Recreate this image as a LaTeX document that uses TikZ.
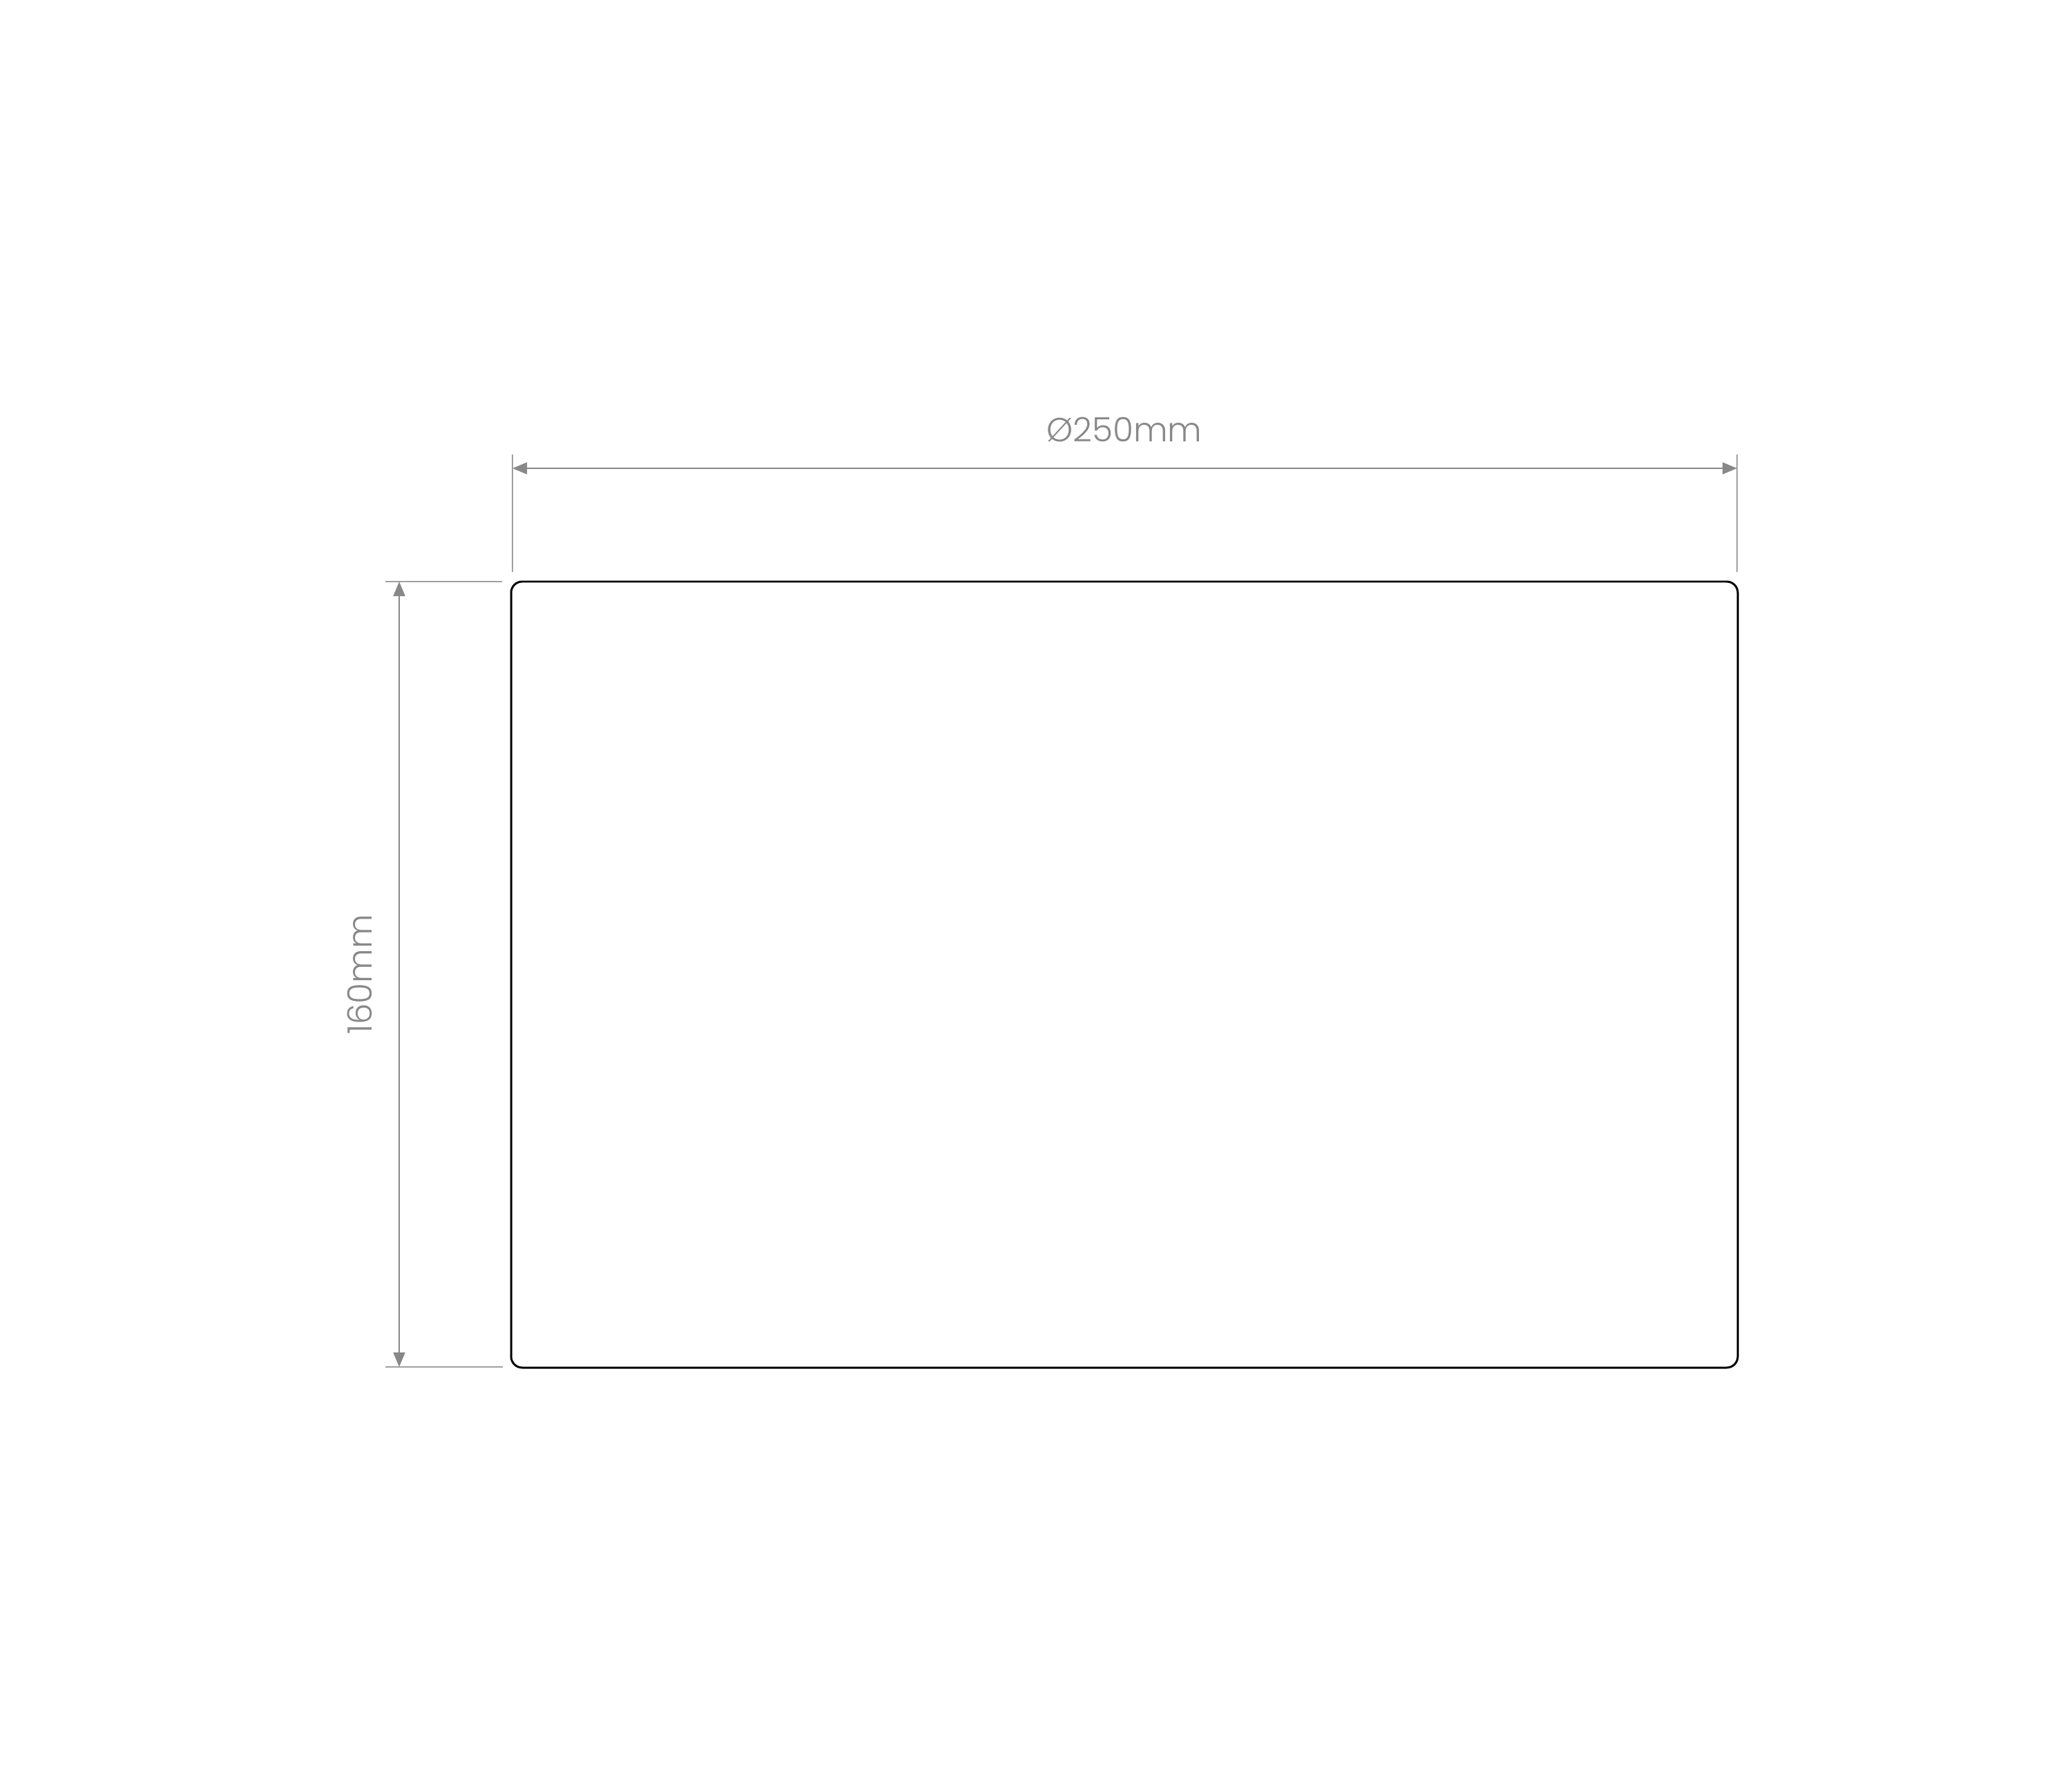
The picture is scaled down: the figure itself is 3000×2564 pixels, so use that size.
\documentclass[tikz,border=0pt]{standalone}
\usepackage{fontspec}
\setmainfont{Poppins}[UprightFont=* Light]
\usetikzlibrary{arrows.meta}
\definecolor{dimgray}{HTML}{888888}
\tikzset{
  dimline/.style={draw=dimgray, line width=0.55pt, {Triangle[length=0.21cm,width=0.17cm]}-{Triangle[length=0.21cm,width=0.17cm]}},
  extline/.style={draw=dimgray!80, line width=0.55pt},
  body/.style={draw=black, line width=0.85pt, rounded corners=0.16cm},
  dimlabel/.style={text=dimgray, font=\fontsize{13.8}{16}\selectfont, inner sep=0pt}
}
\begin{document}
\begin{tikzpicture}[x=0.01cm, y=-0.01cm]
\useasboundingbox (0,0) rectangle (3000,2564);
% body
\draw[body] (740,842) rectangle (2516,1980);
% extension lines
\coordinate (tl1) at (742,658); \coordinate (tl2) at (742,828);
\coordinate (tr1) at (2515,658); \coordinate (tr2) at (2515,828);
\coordinate (lt1) at (558,842); \coordinate (lt2) at (727,842);
\coordinate (lb1) at (558,1979); \coordinate (lb2) at (728,1979);
\draw[extline] (tl1) -- (tl2);
\draw[extline] (tr1) -- (tr2);
\draw[extline] (lt1) -- (lt2);
\draw[extline] (lb1) -- (lb2);
% dimension lines
\coordinate (wa) at (742,678); \coordinate (wb) at (2515,678);
\coordinate (ha) at (578,842); \coordinate (hb) at (578,1979);
\draw[dimline] (wa) -- (wb);
\draw[dimline] (ha) -- (hb);
% labels
\node[dimlabel, anchor=base] (wlab) at (1628,639) {Ø250mm};
\node[dimlabel, anchor=base, rotate=90] (hlab) at (538,1411) {160mm};
\end{tikzpicture}
\end{document}
